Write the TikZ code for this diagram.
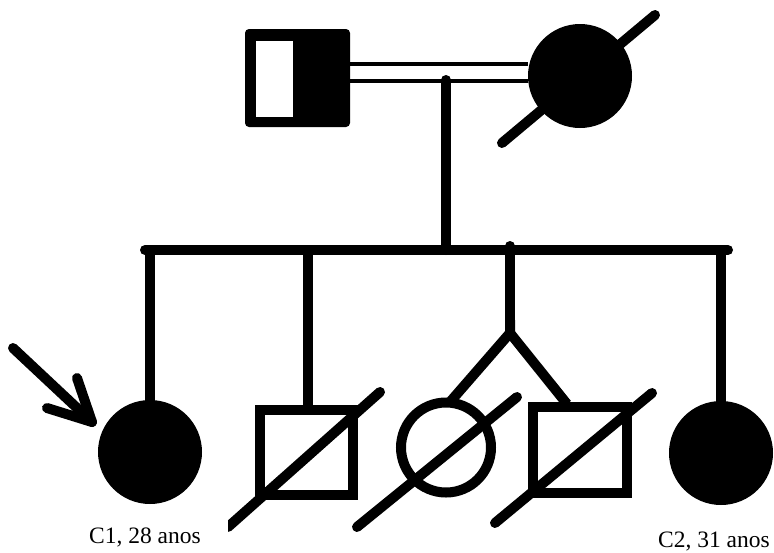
\documentclass[tikz,border=0pt]{standalone}
\usepackage{fontspec}
\setmainfont{Liberation Serif}
\begin{document}
\begin{tikzpicture}[x=1pt,y=-1pt,
  thick line/.style={line width=10pt,line cap=round},
  thin line/.style={line width=4.5pt},
  outline/.style={draw,line width=10pt,fill=white},
  filled/.style={draw=none,fill=black},
  agelabel/.style={font=\fontsize{23.5}{27}\selectfont,inner sep=0pt}
]
\useasboundingbox (0,0) rectangle (774,552);
\fill[white] (0,0) rectangle (774,552);

% generation I
\node[filled,rounded corners=4pt,minimum width=105pt,minimum height=98pt,inner sep=0pt] (father) at (297.5,78) {};
\node[fill=white,draw=none,minimum width=37pt,minimum height=76pt,inner sep=0pt] (fatherwhite) at (274.5,79) {};
\node[filled,circle,minimum size=104pt,inner sep=0pt] (mother) at (580,76) {};
\coordinate (mdA) at (502,143);
\coordinate (mdB) at (655,15);
\draw[thick line] (mdA) -- (mdB);

% consanguineous double line
\coordinate (cpl) at (446,80);
\draw[thin line] (father.east |- 0,64) -- (mother.west |- 0,64);
\draw[thin line] (father.east |- 0,81) -- (mother.west |- 0,81);

% sibship
\coordinate (sL) at (145,250);
\coordinate (sR) at (728,250);
\coordinate (sC) at (446,250);
\draw[thick line] (sL) -- (sR);
\draw[thick line] (cpl) -- (sC);

% children
\node[filled,circle,minimum size=104pt,inner sep=0pt] (c1) at (150,452) {};
\node[outline,minimum width=93pt,minimum height=85pt,inner sep=0pt] (s1) at (306.5,452.5) {};
\node[outline,circle,minimum size=90pt,inner sep=0pt] (tw1) at (446,447.5) {};
\node[outline,minimum width=94pt,minimum height=86pt,inner sep=0pt] (tw2) at (580,450) {};
\node[filled,circle,minimum size=104pt,inner sep=0pt] (c2) at (721,453) {};

\draw[thick line,line cap=butt] (c1.north |- sL) -- (c1.north);
\draw[thick line,line cap=butt] (308,250) -- (308,405);
\draw[thick line,line cap=butt] (c2.north |- sR) -- (c2.north);

% twins
\coordinate (tw) at (510,246);
\coordinate (twj) at (510,333);
\draw[thick line] (tw) -- (twj);
\draw[thick line,line cap=butt,line join=miter] (510,320) -- (twj) -- (450,402);
\draw[thick line,line cap=butt,line join=miter] (twj) -- (567,404);

% deceased slashes
\coordinate (d1a) at (228,527);
\coordinate (d1b) at (380,392);
\draw[thick line] (d1a) -- (d1b);
\coordinate (d2a) at (357,527);
\coordinate (d2b) at (517,397);
\draw[thick line] (d2a) -- (d2b);
\coordinate (d3a) at (495,523);
\coordinate (d3b) at (652,393);
\draw[thick line] (d3a) -- (d3b);

% proband arrow
\coordinate (arS) at (13,348);
\coordinate (arT) at (92,422);
\coordinate (arB1) at (77,378);
\coordinate (arB2) at (47,408);
\draw[thick line] (arS) -- (arT);
\draw[thick line,line join=round] (arB1) -- (arT) -- (arB2);

% labels
\node[fill=white,minimum width=166pt,minimum height=40pt,anchor=north west,inner sep=0pt] (c1box) at (62,513) {};
\node[agelabel,anchor=base] (c1lab) at (145,543) {C1, 28 anos};
\node[agelabel,anchor=base] (c2lab) at (714,547) {C2, 31 anos};
\end{tikzpicture}
\end{document}
